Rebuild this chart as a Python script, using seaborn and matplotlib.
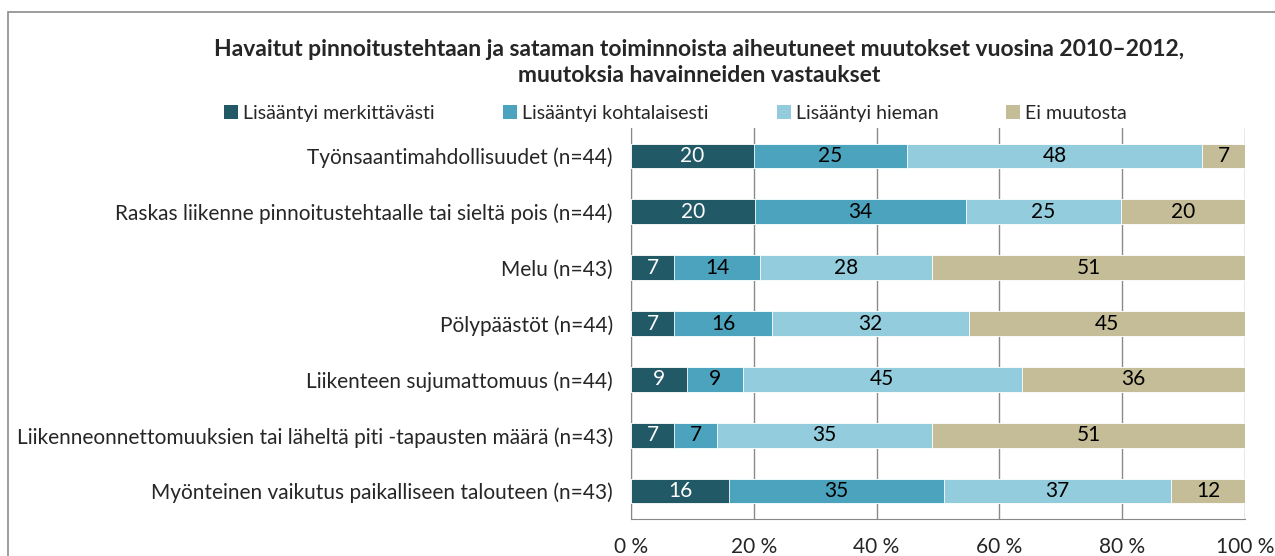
import pandas as pd
import matplotlib.pyplot as plt
import seaborn as sns
from matplotlib.patches import Rectangle, Patch

categories = ['Työnsaantimahdollisuudet (n=44)',
              'Raskas liikenne pinnoitustehtaalle tai sieltä pois (n=44)',
              'Melu (n=43)',
              'Pölypäästöt (n=44)',
              'Liikenteen sujumattomuus (n=44)',
              'Liikenneonnettomuuksien tai läheltä piti -tapausten määrä (n=43)',
              'Myönteinen vaikutus paikalliseen talouteen (n=43)']
merkittavasti = [20, 20, 7, 7, 9, 7, 16]
kohtalaisesti = [25, 34, 14, 16, 9, 7, 35]
hieman = [48, 25, 28, 32, 45, 35, 37]
ei_muutosta = [7, 20, 51, 45, 36, 51, 12]

series = ['Lisääntyi merkittävästi', 'Lisääntyi kohtalaisesti', 'Lisääntyi hieman', 'Ei muutosta']
colors = ['#215967', '#4BA3BD', '#93CDDD', '#C4BD97']
text_colors = ['white', 'black', 'black', 'black']

sns.set_style('white')
plt.rcParams['font.family'] = ['Lato', 'DejaVu Sans']
fs = 15

df = pd.DataFrame({'cat': categories, series[0]: merkittavasti, series[1]: kohtalaisesti,
                   series[2]: hieman, series[3]: ei_muutosta})
total = df[series].sum(axis=1)
share = df[series].div(total, axis=0) * 100
cum = share.cumsum(axis=1)

fig = plt.figure(figsize=(12.75, 5.56), dpi=100)
ax = fig.add_axes([631 / 1275, 37 / 556, 614 / 1275, 391 / 556])
ax.set_axisbelow(True)
ax.xaxis.grid(True, color='#8a8a8a', linewidth=1)

# stacked bars: draw the longest cumulative first, shorter ones on top
for i in range(len(series) - 1, -1, -1):
    plot_df = pd.DataFrame({'cat': categories, 'val': cum[series[i]]})
    sns.barplot(data=plot_df, y='cat', x='val', color=colors[i], width=0.44,
                saturation=1, ax=ax, orient='h', zorder=3,
                edgecolor='white', linewidth=0.6)

for i, s in enumerate(series):
    for j in range(len(categories)):
        mid = cum[s].iloc[j] - share[s].iloc[j] / 2
        ax.text(mid, j, str(df[s].iloc[j]), ha='center', va='center',
                color=text_colors[i], fontsize=fs, zorder=4)

ax.set_xlim(0, 100)
ax.set_ylim(len(categories) - 0.5, -0.5)
ax.set_xticks([0, 20, 40, 60, 80, 100])
ax.set_xticklabels(['0 %', '20 %', '40 %', '60 %', '80 %', '100 %'], fontsize=fs)
ax.set_yticks(range(len(categories)))
ax.set_yticklabels(categories, fontsize=fs)
ax.tick_params(axis='y', length=0, pad=13)
ax.set_yticks([k - 0.5 for k in range(len(categories) + 1)], minor=True)
ax.tick_params(axis='y', which='minor', length=4.5, color='#888888', direction='out')
ax.tick_params(axis='x', length=4, color='#888888', direction='out', pad=9)
ax.set_xlabel('')
ax.set_ylabel('')
for side in ['top', 'right']:
    ax.spines[side].set_visible(False)
for side in ['left', 'bottom']:
    ax.spines[side].set_color('#888888')

fig.text(0.548, 0.888, 'Havaitut pinnoitustehtaan ja sataman toiminnoista aiheutuneet muutokset vuosina 2010–2012,\nmuutoksia havainneiden vastaukset',
         ha='center', va='center', fontsize=16.5, fontweight='bold', linespacing=1.3)

legend_x = [224, 503, 777, 1006]
for name, c, x in zip(series, colors, legend_x):
    fig.legend([Patch(facecolor=c, edgecolor='none')], [name], loc='center left',
               bbox_to_anchor=(x / 1275, 1 - 113 / 556), frameon=False, fontsize=14,
               handlelength=0.7, handleheight=0.7, handletextpad=0.3,
               borderpad=0, borderaxespad=0)

fig.patches.append(Rectangle((7.5 / 1275, -0.1), 1.2, (556 - 12 + 0.5) / 556 + 0.1,
                             transform=fig.transFigure, fill=False,
                             edgecolor='#8c8c8c', linewidth=1.2))

fig.savefig('out.png', dpi=100)
